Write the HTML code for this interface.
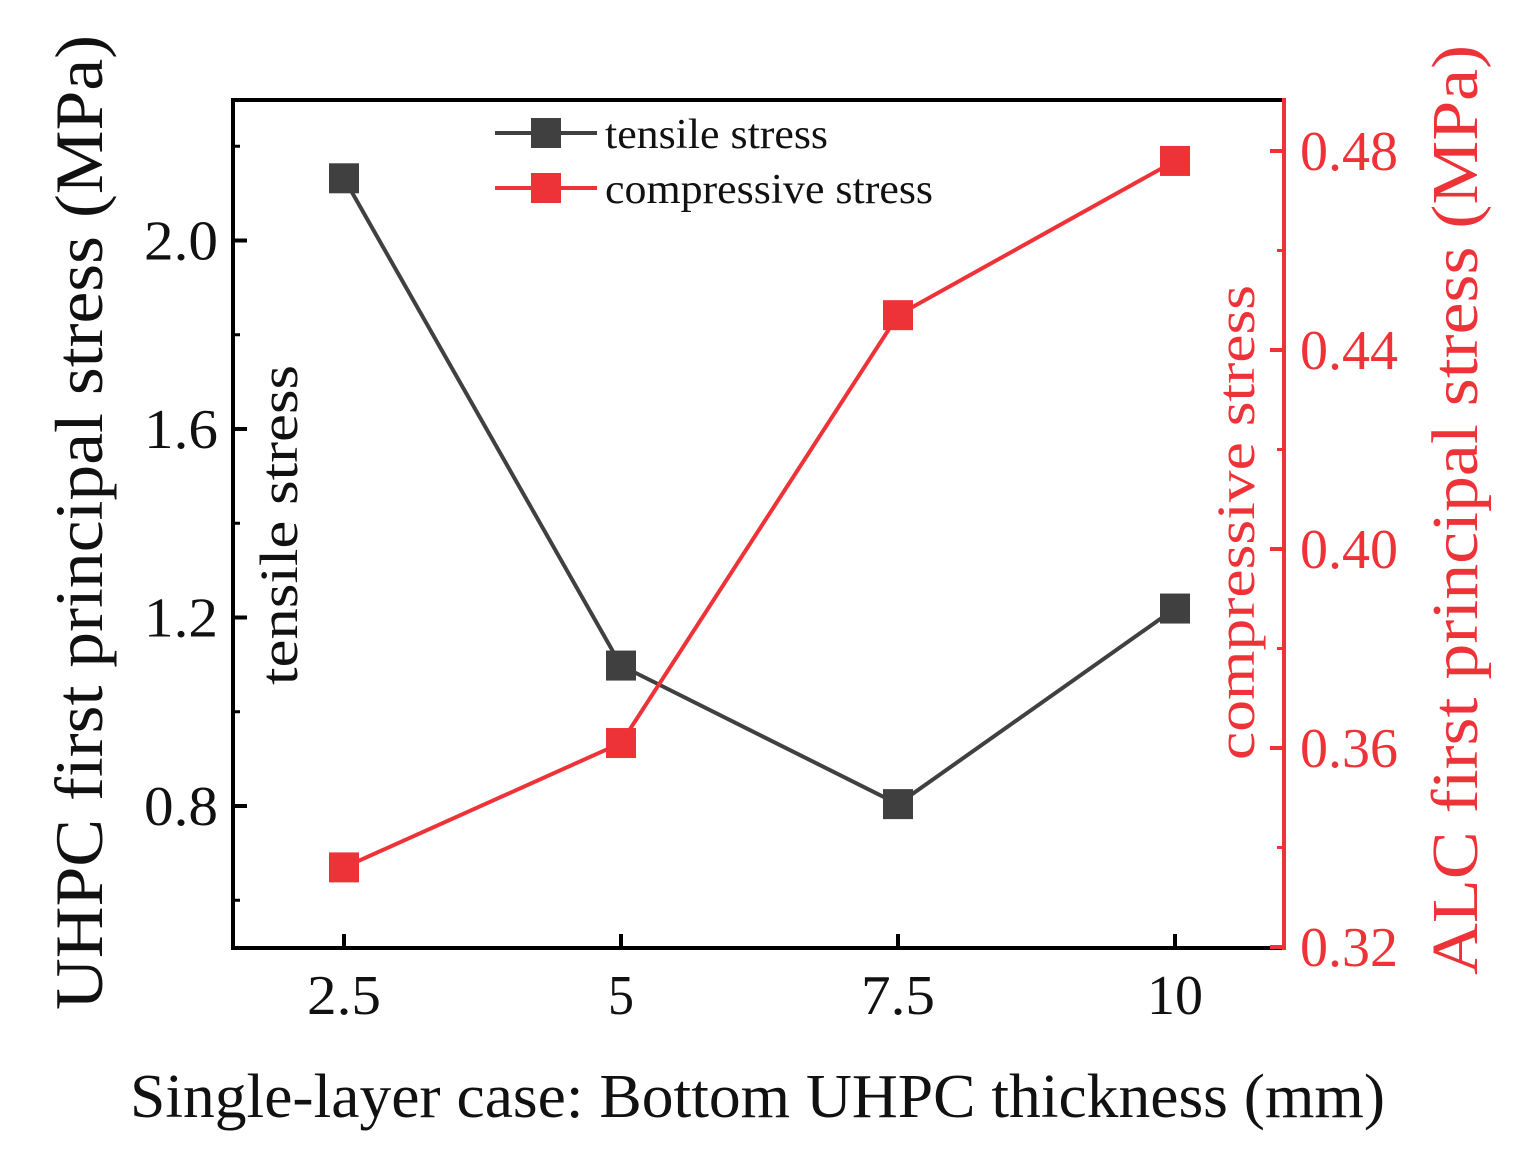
<!DOCTYPE html>
<html><head><meta charset="utf-8"><style>
body{margin:0;background:#fff}
svg text{font-family:"Liberation Serif",serif}
</style></head><body>
<svg id="chart" width="1528" height="1168" xmlns="http://www.w3.org/2000/svg">
<g id="plot"></g>
</svg>
<script>
const categories=[2.5,5,7.5,10];
const tensileValues=[2.132,1.098,0.804,1.219];
const compressiveValues=[0.336,0.361,0.447,0.478];
const xTicks=["2.5","5","7.5","10"];
const leftTicks=[0.8,1.2,1.6,2.0];
const leftMinor=[0.6,1.0,1.4,1.8,2.2];
const rightTicks=[0.32,0.36,0.40,0.44,0.48];
const rightMinor=[0.34,0.38,0.42,0.46];

const L=233,R=1284,T=100,B=948;
const xS=v=>344+(v-2.5)/2.5*277;
const yL=v=>806-(v-0.8)/0.4*188.5;
const yR=v=>947-(v-0.32)/0.04*199;
const NS="http://www.w3.org/2000/svg";
const g=document.getElementById('plot');
function mk(tag,attrs,name,text){const e=document.createElementNS(NS,tag);for(const k in attrs)e.setAttribute(k,attrs[k]);


if(text!==undefined)e.textContent=text;g.appendChild(e);return e;}
const BLK="#000",RED="#ee3338",GRY="#404040";
const LA='spacingAndGlyphs';
mk('line',{x1:L,y1:T,x2:R,y2:T,stroke:BLK,'stroke-width':4},'top-axis');
mk('line',{x1:L,y1:T-2,x2:L,y2:B+2,stroke:BLK,'stroke-width':4},'left-axis');
mk('line',{x1:L-2,y1:B,x2:R,y2:B,stroke:BLK,'stroke-width':4},'x-axis');
mk('line',{x1:R,y1:T-2,x2:R,y2:B+2,stroke:RED,'stroke-width':4},'right-axis');
categories.forEach((c,i)=>{const x=xS(c);
mk('line',{x1:x,y1:B,x2:x,y2:B-14,stroke:BLK,'stroke-width':4},'x-tick');
const w=xTicks[i].length===1?26:(xTicks[i].length===2?56:74);
mk('text',{x:x,y:1014,'font-size':56,'text-anchor':'middle',fill:'#111',textLength:w,lengthAdjust:LA},'x-tick-label',xTicks[i]);});
leftTicks.forEach(v=>{const y=yL(v);
mk('line',{x1:L,y1:y,x2:L+14,y2:y,stroke:BLK,'stroke-width':4},'left-tick');
mk('text',{x:218,y:y+19,'font-size':56,'text-anchor':'end',fill:'#111',textLength:74,lengthAdjust:LA},'left-tick-label',v.toFixed(1));});
leftMinor.forEach(v=>mk('line',{x1:L,y1:yL(v),x2:L+7,y2:yL(v),stroke:BLK,'stroke-width':3},'left-minor-tick'));
rightTicks.forEach(v=>{const y=yR(v);
mk('line',{x1:R,y1:y,x2:R-14,y2:y,stroke:RED,'stroke-width':4},'right-tick');
mk('text',{x:1300,y:y+19,'font-size':56,fill:RED,textLength:98,lengthAdjust:LA},'right-tick-label',v.toFixed(2));});
rightMinor.forEach(v=>mk('line',{x1:R,y1:yR(v),x2:R-7,y2:yR(v),stroke:RED,'stroke-width':3},'right-minor-tick'));
mk('polyline',{points:categories.map((c,i)=>xS(c)+','+yL(tensileValues[i])).join(' '),fill:'none',stroke:GRY,'stroke-width':4},'tensile-line');
mk('polyline',{points:categories.map((c,i)=>xS(c)+','+yR(compressiveValues[i])).join(' '),fill:'none',stroke:RED,'stroke-width':4},'compressive-line');
categories.forEach((c,i)=>{
mk('rect',{x:xS(c)-15,y:yL(tensileValues[i])-15,width:30,height:30,fill:GRY},'tensile-marker');
mk('rect',{x:xS(c)-15,y:yR(compressiveValues[i])-15,width:30,height:30,fill:RED},'compressive-marker');});
mk('line',{x1:495,y1:133,x2:597,y2:133,stroke:GRY,'stroke-width':4},'legend-tensile-line');
mk('rect',{x:531,y:118,width:30,height:30,fill:GRY},'legend-tensile-marker');
mk('text',{x:605,y:148,'font-size':42,fill:'#111',textLength:223,lengthAdjust:LA},'legend-tensile-label','tensile stress');
mk('line',{x1:495,y1:188,x2:597,y2:188,stroke:RED,'stroke-width':4},'legend-compressive-line');
mk('rect',{x:531,y:173,width:30,height:30,fill:RED},'legend-compressive-marker');
mk('text',{x:605,y:203,'font-size':42,fill:'#111',textLength:328,lengthAdjust:LA},'legend-compressive-label','compressive stress');
mk('text',{x:130,y:1117,'font-size':62,fill:'#111',textLength:1255,lengthAdjust:LA},'x-axis-title','Single-layer case: Bottom UHPC thickness (mm)');
mk('text',{transform:'translate(102,1010) rotate(-90)','font-size':68,fill:'#111',textLength:975,lengthAdjust:LA},'left-axis-title','UHPC first principal stress (MPa)');
mk('text',{transform:'translate(297,685) rotate(-90)','font-size':54,fill:'#111',textLength:320,lengthAdjust:LA},'left-inner-label','tensile stress');
mk('text',{transform:'translate(1254,760) rotate(-90)','font-size':54,fill:RED,textLength:475,lengthAdjust:LA},'right-inner-label','compressive stress');
mk('text',{transform:'translate(1477,975) rotate(-90)','font-size':66,fill:RED,textLength:930,lengthAdjust:LA},'right-axis-title','ALC first principal stress (MPa)');
</script>
</body></html>
